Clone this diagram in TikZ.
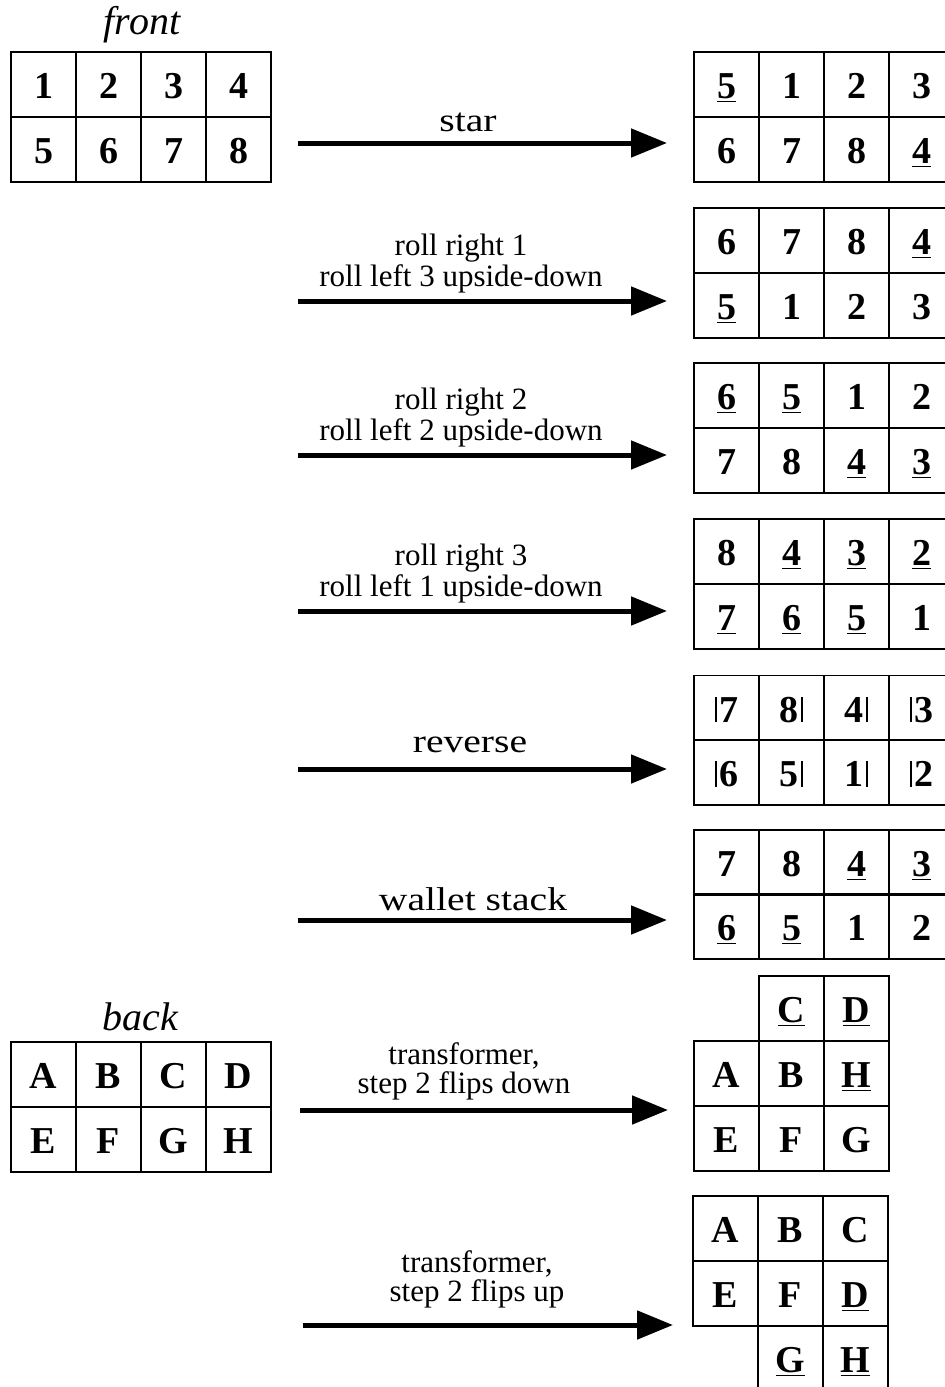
\documentclass[tikz,border=0pt]{standalone}
\usepackage{fontspec}
\setmainfont{Liberation Serif}
\usetikzlibrary{arrows.meta}

\newcommand{\ul}[1]{\underline{#1}}
\newcommand{\lbar}[1]{\rule{1.2pt}{0.67em}\hspace{1pt}#1}
\newcommand{\rbar}[1]{#1\hspace{1pt}\rule{1.2pt}{0.67em}}

\tikzset{
  cell/.style={draw, line width=0.8pt, minimum width=32.5pt, minimum height=32.5pt,
    inner sep=0pt, text height=15.5pt, text depth=1.5pt,
    font=\fontsize{19}{22}\selectfont\bfseries},
  move/.style={line width=2.5pt, -{Triangle[length=18pt,width=14pt]}},
  lbl/.style={font=\fontsize{15.5}{15.5}\selectfont, align=center},
  twolbl/.style={font=\fontsize{15.5}{14.5}\selectfont, align=center},
  wide/.style={font=\fontsize{16.5}{18}\selectfont, xscale=1.2},
  side/.style={font=\fontsize{20}{22}\selectfont\itshape}
}

\begin{document}
\begin{tikzpicture}[x=0.5pt, y=-0.5pt]
  \useasboundingbox (0,0) rectangle (945,1387);

  % front and back of the wallet
  \node[side] (front) at (142,25) {front};
  \foreach \t [count=\i] in {1,2,3,4}
    \node[cell] (fa\i) at ({-21.5+65*\i},84.5) {\t};
  \foreach \t [count=\i] in {5,6,7,8}
    \node[cell] (fb\i) at ({-21.5+65*\i},149.5) {\t};

  \node[side] (back) at (140,1017) {back};
  \foreach \t [count=\i] in {A,B,C,D}
    \node[cell] (ba\i) at ({-21.5+65*\i},1074.5) {\t};
  \foreach \t [count=\i] in {E,F,G,H}
    \node[cell] (bb\i) at ({-21.5+65*\i},1139.5) {\t};

  % star
  \foreach \t [count=\i] in {\ul{5},1,2,3}
    \node[cell] (sa\i) at ({661.5+65*\i},84.5) {\t};
  \foreach \t [count=\i] in {6,7,8,\ul{4}}
    \node[cell] (sb\i) at ({661.5+65*\i},149.5) {\t};

  % roll right 1
  \foreach \t [count=\i] in {6,7,8,\ul{4}}
    \node[cell] (ra\i) at ({661.5+65*\i},240.5) {\t};
  \foreach \t [count=\i] in {\ul{5},1,2,3}
    \node[cell] (rb\i) at ({661.5+65*\i},305.5) {\t};

  % roll right 2
  \foreach \t [count=\i] in {\ul{6},\ul{5},1,2}
    \node[cell] (qa\i) at ({661.5+65*\i},395.5) {\t};
  \foreach \t [count=\i] in {7,8,\ul{4},\ul{3}}
    \node[cell] (qb\i) at ({661.5+65*\i},460.5) {\t};

  % roll right 3
  \foreach \t [count=\i] in {8,\ul{4},\ul{3},\ul{2}}
    \node[cell] (pa\i) at ({661.5+65*\i},551.5) {\t};
  \foreach \t [count=\i] in {\ul{7},\ul{6},\ul{5},1}
    \node[cell] (pb\i) at ({661.5+65*\i},616.5) {\t};

  % reverse
  \foreach \t [count=\i] in {\lbar{7},\rbar{8},\rbar{4},\lbar{3}}
    \node[cell] (va\i) at ({661.5+65*\i},708) {\t};
  \foreach \t [count=\i] in {\lbar{6},\rbar{5},\rbar{1},\lbar{2}}
    \node[cell] (vb\i) at ({661.5+65*\i},772.5) {\t};

  % wallet stack
  \foreach \t [count=\i] in {7,8,\ul{4},\ul{3}}
    \node[cell] (wa\i) at ({661.5+65*\i},862.5) {\t};
  \foreach \t [count=\i] in {\ul{6},\ul{5},1,2}
    \node[cell] (wb\i) at ({661.5+65*\i},926.5) {\t};

  % transformer, flips down
  \node[cell] (da2) at (791.5,1008.5) {\ul{C}};
  \node[cell] (da3) at (856.5,1008.5) {\ul{D}};
  \foreach \t [count=\i] in {A,B,\ul{H}}
    \node[cell] (db\i) at ({661.5+65*\i},1073.5) {\t};
  \foreach \t [count=\i] in {E,F,G}
    \node[cell] (dc\i) at ({661.5+65*\i},1138.5) {\t};

  % transformer, flips up
  \foreach \t [count=\i] in {A,B,C}
    \node[cell] (ua\i) at ({660.5+65*\i},1228.5) {\t};
  \foreach \t [count=\i] in {E,F,\ul{D}}
    \node[cell] (ub\i) at ({660.5+65*\i},1293.5) {\t};
  \node[cell] (uc2) at (790.5,1358.5) {\ul{G}};
  \node[cell] (uc3) at (855.5,1358.5) {\ul{H}};

  % arrows
  \coordinate (s0) at (298,143);   \coordinate (s1) at (667,143);
  \coordinate (r0) at (298,301);   \coordinate (r1) at (667,301);
  \coordinate (q0) at (298,455);   \coordinate (q1) at (667,455);
  \coordinate (p0) at (298,611);   \coordinate (p1) at (667,611);
  \coordinate (v0) at (298,769);   \coordinate (v1) at (667,769);
  \coordinate (w0) at (298,920);   \coordinate (w1) at (667,920);
  \coordinate (d0) at (300,1110);  \coordinate (d1) at (668,1110);
  \coordinate (u0) at (303,1325);  \coordinate (u1) at (673,1325);
  \draw[move] (s0) -- (s1);
  \draw[move] (r0) -- (r1);
  \draw[move] (q0) -- (q1);
  \draw[move] (p0) -- (p1);
  \draw[move] (v0) -- (v1);
  \draw[move] (w0) -- (w1);
  \draw[move] (d0) -- (d1);
  \draw[move] (u0) -- (u1);

  % labels
  \node[wide] (slbl) at (468,122) {star};
  \node[lbl] (rlbl) at (461,264) {roll right 1\\roll left 3 upside-down};
  \node[lbl] (qlbl) at (461,418) {roll right 2\\roll left 2 upside-down};
  \node[lbl] (plbl) at (461,574) {roll right 3\\roll left 1 upside-down};
  \node[wide] (vlbl) at (470,745) {reverse};
  \node[wide] (wlbl) at (473,899) {wallet stack};
  \node[twolbl] (dlbl) at (464,1071) {transformer,\\step 2 flips down};
  \node[twolbl] (ulbl) at (477,1279) {transformer,\\step 2 flips up};
\end{tikzpicture}
\end{document}
